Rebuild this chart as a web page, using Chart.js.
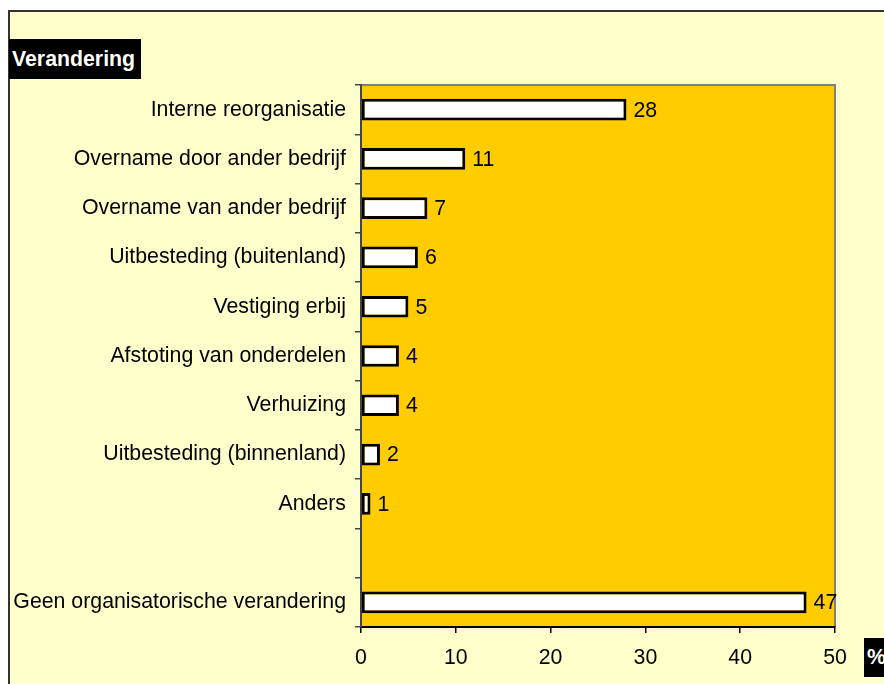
<!DOCTYPE html>
<html><head><meta charset="utf-8">
<script src="https://cdn.jsdelivr.net/npm/chart.js@4/dist/chart.umd.min.js"></script>
<style>
html,body{margin:0;padding:0;background:#fff;}
#wrap{position:relative;width:884px;height:684px;overflow:hidden;}
canvas{position:absolute;left:0;top:0;}
.box{position:absolute;background:#000;color:#fff;font:bold 21.3px "Liberation Sans",Arial,sans-serif;display:flex;align-items:center;}
</style></head>
<body><div id="wrap"><canvas id="c" width="884" height="684"></canvas>
<div class="box" style="left:9px;top:39px;width:132px;height:40px;padding-left:3px;box-sizing:border-box;">Verandering</div>
<div class="box" style="left:864px;top:638px;width:30px;height:39px;padding-left:3px;box-sizing:border-box;">%</div>
</div>
<script>
const categories = ["Interne reorganisatie","Overname door ander bedrijf","Overname van ander bedrijf","Uitbesteding (buitenland)","Vestiging erbij","Afstoting van onderdelen","Verhuizing","Uitbesteding (binnenland)","Anders","","Geen organisatorische verandering"];
const values = [28,11,7,6,5,4,4,2,1,null,47];
const xTicks = [0,10,20,30,40,50];

const FONT = "'Liberation Sans', Arial, sans-serif";

const framePlugin = {
  id:'frame',
  beforeDraw(chart){
    const ctx = chart.ctx, a = chart.chartArea;
    ctx.save();
    ctx.fillStyle='#fff'; ctx.fillRect(0,0,chart.width,chart.height);
    ctx.fillStyle='#FFFFCC'; ctx.fillRect(9,11,chart.width,chart.height);
    ctx.strokeStyle='#333'; ctx.lineWidth=2;
    ctx.beginPath(); ctx.moveTo(9,chart.height+5); ctx.lineTo(9,11); ctx.lineTo(chart.width+5,11); ctx.stroke();
    ctx.fillStyle='#FFCC00'; ctx.fillRect(a.left,a.top,a.right-a.left,a.bottom-a.top);
    ctx.strokeStyle='#808080'; ctx.lineWidth=2;
    ctx.beginPath(); ctx.moveTo(a.left,a.top); ctx.lineTo(a.right,a.top); ctx.lineTo(a.right,a.bottom); ctx.stroke();
    ctx.restore();
  },
  afterDatasetsDraw(chart){
    const ctx = chart.ctx;
    const meta = chart.getDatasetMeta(0);
    ctx.save();
    ctx.fillStyle='#000'; ctx.font='21.3px '+FONT; ctx.textBaseline='middle'; ctx.textAlign='left';
    meta.data.forEach((bar,i)=>{
      const v = values[i];
      if(v===null) return;
      ctx.fillText(String(v), bar.x+7, bar.y+1);
    });
    ctx.restore();
  }
};

new Chart(document.getElementById('c'),{
  type:'bar',
  data:{labels:categories,datasets:[{data:values,backgroundColor:'#fff',borderColor:'#000',borderWidth:3,borderSkipped:false,barPercentage:0.44,categoryPercentage:1}]},
  options:{
    indexAxis:'y',responsive:false,animation:false,devicePixelRatio:1,
    layout:{padding:{left:0,top:85,right:49,bottom:0}},
    plugins:{legend:{display:false},tooltip:{enabled:false}},
    scales:{
      x:{min:0,max:50,
         afterBuildTicks(s){s.ticks=xTicks.map(v=>({value:v}));},
         afterFit(s){s.height=57;},
         border:{color:'#000',width:2},
         grid:{drawOnChartArea:false,drawTicks:true,tickLength:6,color:'#000',tickColor:'#000',lineWidth:1.5},
         ticks:{color:'#000',font:{family:FONT,size:21.3},padding:12,maxRotation:0}},
      y:{
         afterFit(s){s.width=361;},
         border:{color:'#444',width:2},
         grid:{drawOnChartArea:false,drawTicks:true,tickLength:6,offset:true,color:'#444',tickColor:'#444',lineWidth:1.5},
         ticks:{color:'#000',font:{family:FONT,size:21.3},padding:9,autoSkip:false}}
    }
  },
  plugins:[framePlugin]
});
</script></body></html>
